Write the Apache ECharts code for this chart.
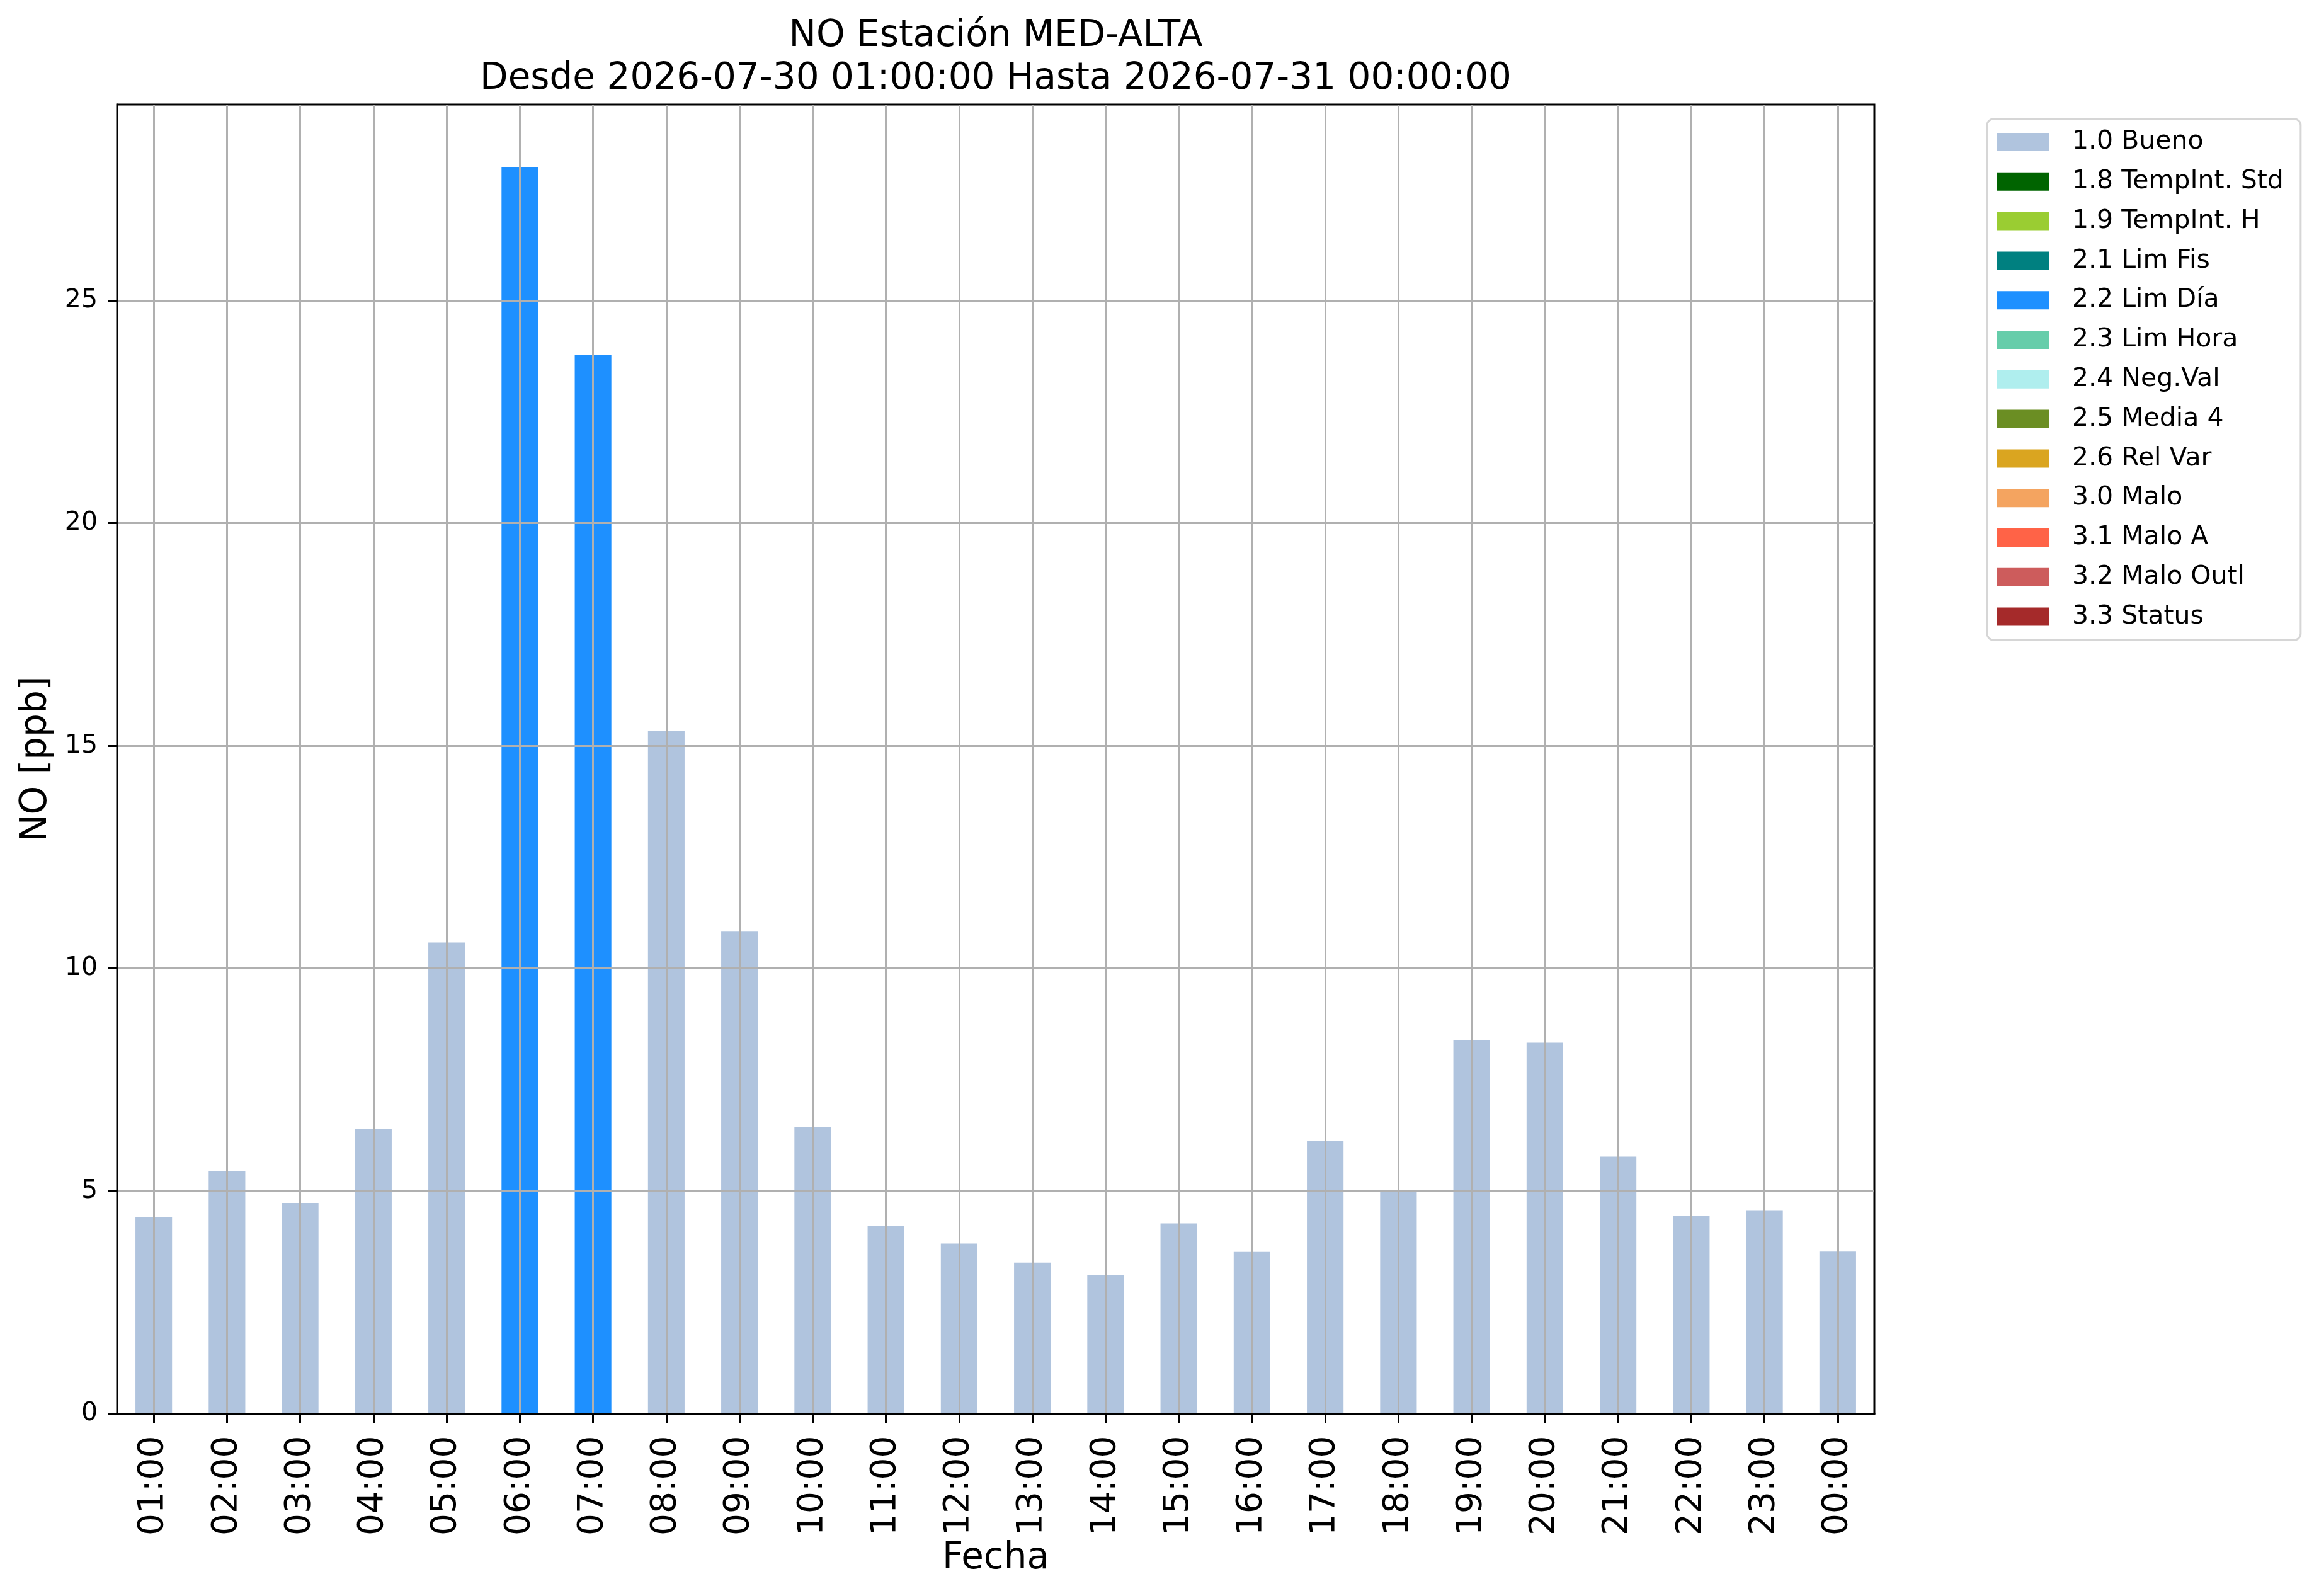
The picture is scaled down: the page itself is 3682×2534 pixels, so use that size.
<!DOCTYPE html>
<html>
<head>
<meta charset="utf-8">
<script src="https://cdn.jsdelivr.net/npm/echarts@6/dist/echarts.min.js"></script>
<style>
html,body{margin:0;padding:0;background:#fff;}
#chart{width:3682px;height:2534px;}
</style>
</head>
<body>
<div id="chart"></div>
<script>
// ---- data ----
const hours = ['01:00','02:00','03:00','04:00','05:00','06:00','07:00','08:00','09:00','10:00','11:00','12:00',
               '13:00','14:00','15:00','16:00','17:00','18:00','19:00','20:00','21:00','22:00','23:00','00:00'];
const values = [4.41, 5.44, 4.73, 6.40, 10.58, 28.0, 23.78, 15.34, 10.84, 6.43, 4.21, 3.82,
                3.39, 3.11, 4.27, 3.63, 6.13, 5.03, 8.38, 8.33, 5.77, 4.44, 4.57, 3.64];
const hourFlags = ['1.0 Bueno','1.0 Bueno','1.0 Bueno','1.0 Bueno','1.0 Bueno','2.2 Lim Día','2.2 Lim Día','1.0 Bueno',
                   '1.0 Bueno','1.0 Bueno','1.0 Bueno','1.0 Bueno','1.0 Bueno','1.0 Bueno','1.0 Bueno','1.0 Bueno',
                   '1.0 Bueno','1.0 Bueno','1.0 Bueno','1.0 Bueno','1.0 Bueno','1.0 Bueno','1.0 Bueno','1.0 Bueno'];
const flagNames = ['1.0 Bueno','1.8 TempInt. Std','1.9 TempInt. H','2.1 Lim Fis','2.2 Lim Día','2.3 Lim Hora',
                   '2.4 Neg.Val','2.5 Media 4','2.6 Rel Var','3.0 Malo','3.1 Malo A','3.2 Malo Outl','3.3 Status'];
const flagColors = ['#B0C4DE','#006400','#9ACD32','#008080','#1E90FF','#66CDAA',
                    '#AFEEEE','#6B8E23','#DAA520','#F4A460','#FF6347','#CD5C5C','#A52A2A'];
const yTicks = [0, 5, 10, 15, 20, 25];
const yMax = 29.4;
const titleLines = ['NO Estación MED-ALTA', 'Desde 2026-07-30 01:00:00 Hasta 2026-07-31 00:00:00'];
const xName = 'Fecha';
const yName = 'NO [ppb]';

// ---- chart ----
const FONT = 'DejaVu Sans';
const chart = echarts.init(document.getElementById('chart'), null, {renderer: 'canvas'});

const plot = {left: 186, right: 706, top: 166, bottom: 289.5};
const pxPerUnit = (2534 - plot.top - plot.bottom) / yMax;
const top25 = 2534 - plot.bottom - yTicks[yTicks.length - 1] * pxPerUnit;

const series = flagNames.map((name, fi) => ({
  name: name,
  type: 'bar',
  stack: 'flags',
  xAxisIndex: 0,
  yAxisIndex: 0,
  barWidth: '50%',
  itemStyle: {color: flagColors[fi]},
  data: values.map((v, i) => hourFlags[i] === name ? v : '-'),
  z: 2
}));

const option = {
  animation: false,
  backgroundColor: '#ffffff',
  title: {
    text: titleLines.join('\n'),
    left: 1581,
    top: 24,
    padding: 0,
    textAlign: 'center',
    textVerticalAlign: 'top',
    textStyle: {fontFamily: FONT, fontSize: 58, fontWeight: 'normal', color: '#000', lineHeight: 68}
  },
  legend: {
    orient: 'vertical',
    left: 3155,
    top: 189,
    padding: [16, 27, 16.5, 16],
    itemGap: 21.8,
    itemWidth: 83,
    itemHeight: 29,
    icon: 'rect',
    borderColor: '#d6d6d6',
    borderWidth: 3,
    borderRadius: 10,
    backgroundColor: 'rgba(255,255,255,0.8)',
    selectedMode: false,
    data: flagNames,
    textStyle: {fontFamily: FONT, fontSize: 41, color: '#000', lineHeight: 41, padding: [0, 0, 0, 31]}
  },
  grid: [
    {left: plot.left, right: plot.right, top: plot.top, bottom: plot.bottom, show: true,
     borderColor: '#000', borderWidth: 3, backgroundColor: 'transparent', containLabel: false},
    {left: plot.left, right: plot.right, top: top25, bottom: plot.bottom, show: false, containLabel: false}
  ],
  xAxis: [
    {
      type: 'category', gridIndex: 0, data: hours, z: 3,
      name: xName, nameLocation: 'middle', nameGap: 198,
      nameTextStyle: {fontFamily: FONT, fontSize: 58, color: '#000'},
      axisLine: {show: true, lineStyle: {color: '#000', width: 3}},
      axisTick: {show: true, alignWithLabel: true, length: 15, lineStyle: {color: '#000', width: 3}},
      axisLabel: {rotate: 90, margin: 35, fontFamily: FONT, fontSize: 55, color: '#000', interval: 0},
      splitLine: {show: true, alignWithLabel: true, interval: 0, lineStyle: {color: '#b0b0b0', width: 3}}
    },
    {
      type: 'category', gridIndex: 1, data: hours, show: false
    }
  ],
  yAxis: [
    {
      type: 'value', gridIndex: 0, min: 0, max: yMax, z: 3,
      name: yName, nameLocation: 'middle', nameGap: 99, nameRotate: 90,
      nameTextStyle: {fontFamily: FONT, fontSize: 58, color: '#000'},
      axisLine: {show: true, lineStyle: {color: '#000', width: 3}},
      axisTick: {show: false},
      axisLabel: {show: false},
      splitLine: {show: false}
    },
    {
      type: 'value', gridIndex: 1, min: yTicks[0], max: yTicks[yTicks.length - 1],
      interval: yTicks[1] - yTicks[0], z: 3,
      axisLine: {show: false},
      axisTick: {show: true, length: 14, lineStyle: {color: '#000', width: 3}},
      axisLabel: {margin: 31, fontFamily: FONT, fontSize: 41, color: '#000'},
      splitLine: {show: true, lineStyle: {color: '#b0b0b0', width: 3}}
    }
  ],
  series: series
};
chart.setOption(option);
</script>
</body>
</html>
